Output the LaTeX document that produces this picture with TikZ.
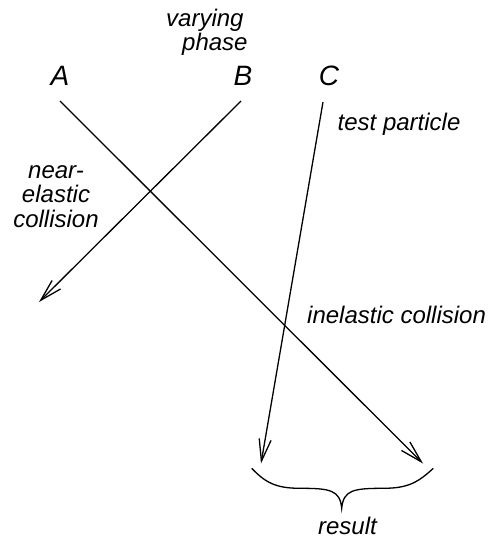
\documentclass[tikz,border=0pt]{standalone}
\usepackage{fontspec}
\setmainfont{Liberation Sans}
\usetikzlibrary{arrows.meta}
\tikzset{
  particle/.style={line width=1.3pt, -{Straight Barb[length=22pt,width=12pt,line width=1.3pt]}},
  lbl/.style={inner sep=0pt, font=\fontsize{24}{24.5}\selectfont\itshape},
  letter/.style={inner sep=0pt, font=\fontsize{28}{30}\selectfont\itshape, anchor=base},
}
\begin{document}
\begin{tikzpicture}[x=1pt,y=-1pt]
\useasboundingbox (0,0) rectangle (489,538);
% particle labels
\node[letter] (A) at (60,85) {A};
\node[letter] (B) at (243,85) {B};
\node[letter] (C) at (329,85) {C};
% line ends
\coordinate (As) at (60,101);
\coordinate (Ae) at (423,463.5);
\coordinate (Bs) at (241,101);
\coordinate (Be) at (39,302);
\coordinate (Cs) at (323,102);
\coordinate (Ce) at (261,463.5);
\draw[particle] (As) -- (Ae);
\draw[particle] (Bs) -- (Be);
\draw[particle] (Cs) -- (Ce);
% texts
\node[lbl, anchor=base west] (vary) at (166,27) {varying};
\node[lbl, anchor=base west] (phase) at (182,50) {phase};
\node[lbl, anchor=base west] (test) at (337.5,130) {test particle};
\node[lbl, anchor=base west] (inel) at (307,323) {inelastic collision};
\node[lbl, anchor=base] (res) at (347.5,534) {result};
\node[lbl, anchor=base, align=center] (near) at (56,227) {near-\\elastic\\collision};
% brace
\coordinate (bl) at (251.7,468.3);
\coordinate (br) at (433.3,468.3);
\coordinate (bt) at (341.7,508.3);
\draw[line width=1.3pt] (bl) .. controls (265,482) and (275,488.3) .. (300,488.3)
  .. controls (330,488.3) and (340,490) .. (bt)
  .. controls (343.4,490) and (353.4,488.3) .. (383.4,488.3)
  .. controls (408.4,488.3) and (418.4,482) .. (br);
\end{tikzpicture}
\end{document}
